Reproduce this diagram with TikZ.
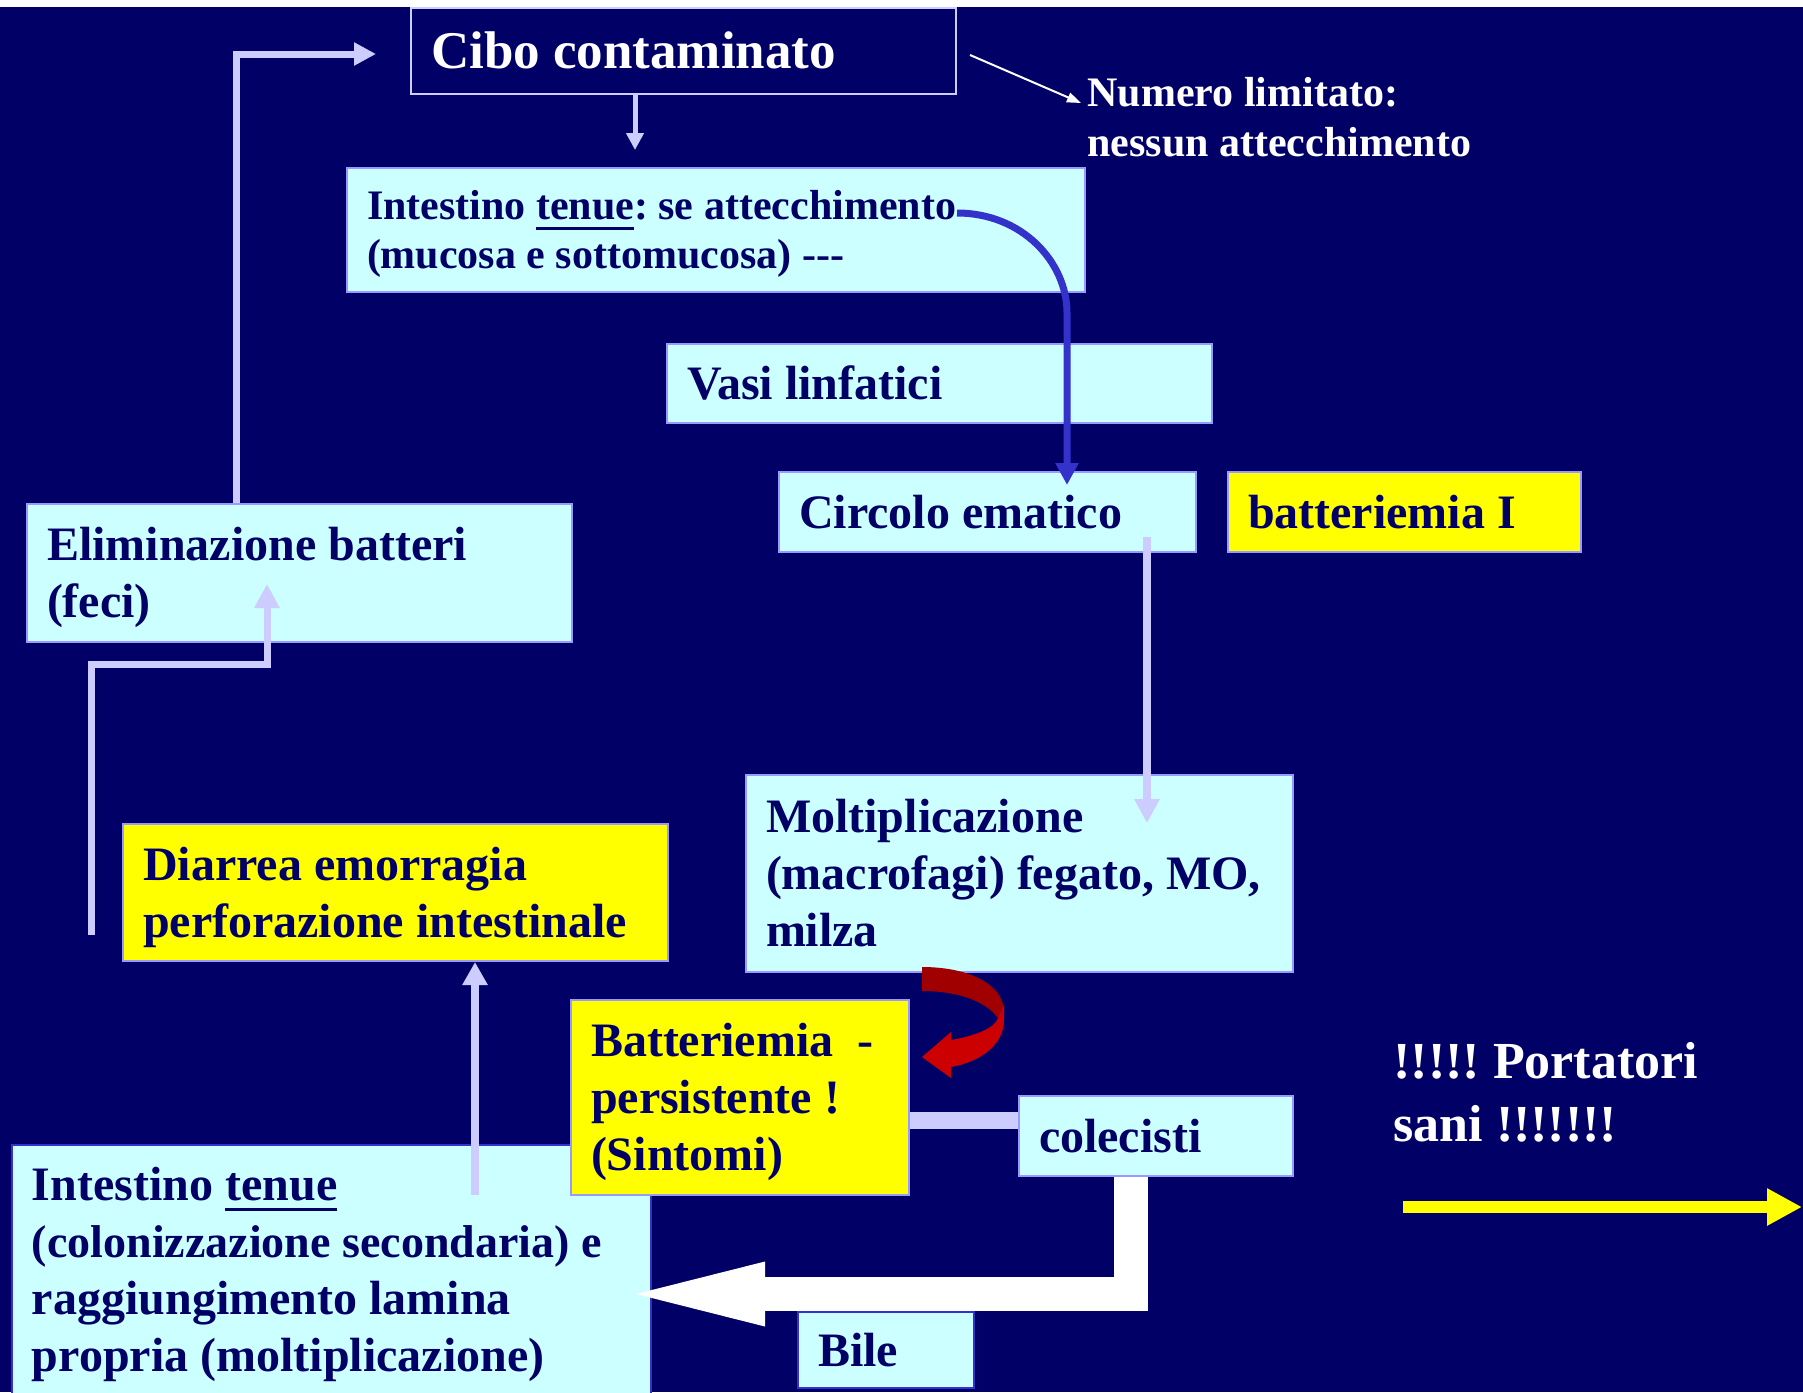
\documentclass[tikz,border=0pt]{standalone}
\usepackage{fontspec}
\setmainfont{Liberation Serif}
\usetikzlibrary{arrows.meta,calc}
\definecolor{navy}{HTML}{000066}
\definecolor{cyanbox}{HTML}{CCFFFF}
\definecolor{lav}{HTML}{CCCCFF}
\definecolor{bord}{HTML}{9999FF}
\definecolor{blu}{HTML}{3333CC}
\definecolor{yel}{HTML}{FFFF00}
\definecolor{dred}{HTML}{A00000}
\definecolor{rred}{HTML}{CC0000}
\newcommand\myul[1]{\setbox0\hbox{#1}\rlap{\rule[-5pt]{\wd0}{1.5pt}}\box0}
\newcommand\mystr{\rule[-0.216em]{0pt}{1.107em}}
\begin{document}
\frenchspacing
\begin{tikzpicture}[x=0.5pt,y=-0.5pt,
  box/.style={draw=bord, line width=1pt, fill=cyanbox, anchor=north west,
    inner xsep=10pt, inner ysep=0pt, align=flush left, text=navy,
    font=\bfseries\fontsize{24}{28.5}\selectfont,
    execute at begin node={\frenchspacing\spaceskip=0.25em\relax\mystr},
    execute at end node={\mystr}},
  ybox/.style={box, fill=yel},
  freetxt/.style={anchor=north west, inner sep=0pt, align=flush left, text=white,
    execute at begin node={\frenchspacing\spaceskip=0.25em\relax}},
  lavarrow/.style={draw=lav, line width=#1},
]
\useasboundingbox (0,0) rectangle (1803,1392);
\fill[navy] (0,0) rectangle (1803,1392);
\fill[white] (0,0) rectangle (1803,7);

% boxes
\node[box, fill=navy, draw=lav, text=white, minimum width=272.5pt, minimum height=43pt,
  text width=252.5pt, font=\bfseries\fontsize{26.5}{30}\selectfont] (Cibo) at (410,7) {Cibo contaminato};
\node[box, minimum width=369pt, minimum height=62pt, text width=349pt,
  font=\bfseries\fontsize{21}{24.5}\selectfont] (I1) at (346,167)
  {Intestino \myul{tenue}: se attecchimento\\(mucosa e sottomucosa) -{}-{}-};
\node[box, minimum width=272.5pt, minimum height=39.5pt, text width=252.5pt] (Vasi) at (666,343) {Vasi linfatici};
\node[box, minimum width=208.5pt, minimum height=40pt, text width=188.5pt] (Circ) at (778,471) {Circolo ematico};
\node[ybox, minimum width=176.5pt, minimum height=40pt, text width=156.5pt] (BatI) at (1227,471) {batteriemia I};
\node[box, minimum width=272.5pt, minimum height=69pt, text width=252.5pt] (Elim) at (26,503) {Eliminazione batteri\\(feci)};
\node[ybox, minimum width=272.5pt, minimum height=68.5pt, text width=252.5pt] (Diar) at (122,823) {Diarrea emorragia\\perforazione intestinale};
\node[box, minimum width=273.5pt, minimum height=98.5pt, text width=253.5pt] (Molt) at (745,774) {Moltiplicazione\\(macrofagi) fegato, MO,\\milza};
\node[box, draw=blu, minimum width=319.5pt, minimum height=125pt, text width=299.5pt] (I2) at (11,1144)
  {Intestino \myul{tenue}\\{\fontsize{23}{28.5}\selectfont\spaceskip=0.25em\relax(colonizzazione~secondaria)~e}\\raggiungimento lamina\\propria (moltiplicazione)};
\node[ybox, minimum width=169pt, minimum height=97.5pt, text width=149pt] (Bat) at (570,999) {Batteriemia\ \ -\\persistente !\\(Sintomi)};
\node[box, minimum width=137pt, minimum height=40pt, text width=117pt] (Col) at (1018,1095) {colecisti};
\node[box, draw=blu, minimum width=88pt, minimum height=38pt, text width=68pt] (Bile) at (797,1311) {Bile};

% free texts
\node[freetxt, font=\bfseries\fontsize{21}{25}\selectfont] (Num) at (1087,77) {Numero limitato:\\nessun attecchimento};
\node[freetxt, font=\bfseries\fontsize{26}{31.5}\selectfont] (Port) at (1393,1042) {!!!!! Portatori\\sani !!!!!!!};

% coordinates for free ends
\coordinate (a1e) at (635,150);
\coordinate (a2x) at (236,0);
\coordinate (a2e) at (376,54);
\coordinate (a3s) at (91,935);
\coordinate (a3m) at (267,664);
\coordinate (a3e) at (267,584);
\coordinate (a4s) at (475,1195);
\coordinate (a5e) at (1147,823);
\coordinate (a6s) at (957,213);
\coordinate (a6m) at (1067,313);
\coordinate (a6e) at (1067,485);
\coordinate (a7s) at (970,55);
\coordinate (a7e) at (1081,103);
\coordinate (barY) at (0,1120);
\coordinate (a10x) at (1131,0);
\coordinate (a10e) at (636,1294);
\coordinate (a11s) at (1403,1207);
\coordinate (a11e) at (1802,1207);

% connectors
\draw[lavarrow=2.5pt, -{Triangle[length=8.5pt,width=8.5pt,fill=lav]}] (Cibo.south -| a1e) -- (a1e);
\draw[lavarrow=3.5pt, line join=miter, -{Triangle[length=11pt,width=11pt,fill=lav]}] (Elim.north -| a2x) |- (a2e);
\draw[lavarrow=3.5pt, line join=miter, -{Triangle[length=12pt,width=12pt,fill=lav]}] (a3s) |- (a3m) -- (a3e);
\draw[lavarrow=4pt, -{Triangle[length=11.5pt,width=12pt,fill=lav]}] (a4s) -- (Diar.south -| a4s);
\draw[lavarrow=4pt, -{Triangle[length=12pt,width=12pt,fill=lav]}] ($(Circ.south -| a5e)+(0,-16)$) -- (a5e);
\draw[draw=blu, line width=3.5pt, -{Triangle[length=11pt,width=11pt,fill=blu]}]
  (a6s) .. controls (1022,213) and (1067,262) .. (a6m) -- (a6e);
\draw[white, line width=1pt, -{Triangle[length=7pt,width=5pt]}] (a7s) -- (a7e);
\draw[lav, line width=8.5pt] (Bat.east |- barY) -- (Col.west |- barY);
\draw[white, line width=17pt, line join=miter, -{Triangle[length=64.5pt,width=32.5pt,line width=0pt]}] (Col.south -| a10x) |- (a10e);
\draw[yel, line width=6pt, -{Triangle[length=17.5pt,width=17.5pt]}] (a11s) -- (a11e);

% red curved arrow
\fill[dred] (922,967) .. controls (970,967) and (1004,985) .. (1004,1012) -- (998,1018)
  .. controls (985,1000) and (955,991) .. (922,991) -- cycle;
\fill[rred] (1004,1005) -- (1004,1020) .. controls (1004,1045) and (980,1062) .. (951,1067)
  -- (951,1078) -- (922,1057) -- (951,1032) -- (951,1040)
  .. controls (975,1036) and (995,1028) .. (998,1018) -- cycle;
\end{tikzpicture}
\end{document}
